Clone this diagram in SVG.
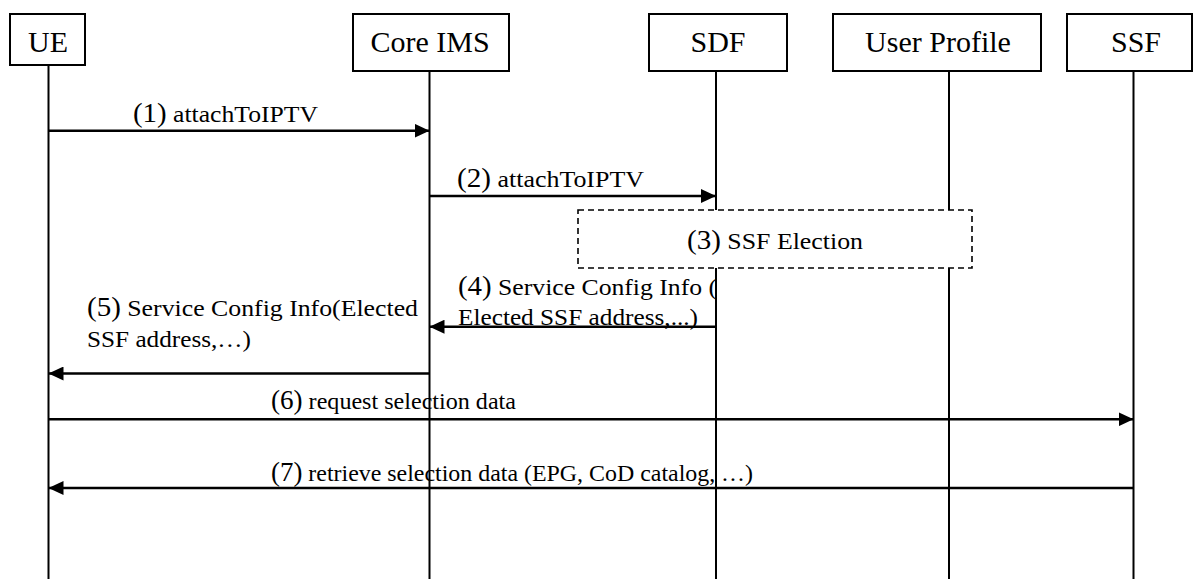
<svg xmlns="http://www.w3.org/2000/svg" width="1193" height="579" viewBox="0 0 1193 579">
<style>
.box{fill:#fff;stroke:#000;stroke-width:2}
.life{stroke:#000;stroke-width:2;fill:none}
.msg{stroke:#000;stroke-width:2.6;fill:none;marker-end:url(#ah)}
.name{font-family:"Liberation Serif","Times New Roman",serif;font-size:30px;fill:#000;text-anchor:middle}
.lbl{font-family:"Liberation Serif","Times New Roman",serif;font-size:24px;fill:#000}
.num{font-size:27px}
.dash{fill:#fff;stroke:#000;stroke-width:1.6;stroke-dasharray:6 4}
</style>
<defs>
<marker id="ah" viewBox="0 0 15 14" refX="15" refY="7" markerWidth="15" markerHeight="14" markerUnits="userSpaceOnUse" orient="auto">
<path d="M0,0 L15,7 L0,14 z" fill="#000"/>
</marker>
</defs>
<rect width="1193" height="579" fill="#fff"/>
<g id="lifelines">
<line class="life" x1="48.5" y1="65" x2="48.5" y2="579"/>
<line class="life" x1="429.5" y1="71" x2="429.5" y2="579"/>
<line class="life" x1="716" y1="71" x2="716" y2="579"/>
<line class="life" x1="949" y1="71" x2="949" y2="579"/>
<line class="life" x1="1133.5" y1="71" x2="1133.5" y2="579"/>
</g>
<g id="node-ue"><rect class="box" x="10" y="14" width="75" height="51"/><text class="name" x="48" y="52">UE</text></g>
<g id="node-coreims"><rect class="box" x="353" y="14" width="156" height="57"/><text class="name" x="430" y="52">Core IMS</text></g>
<g id="node-sdf"><rect class="box" x="649" y="14" width="138" height="57"/><text class="name" x="718" y="52">SDF</text></g>
<g id="node-userprofile"><rect class="box" x="833" y="14" width="208" height="57"/><text class="name" x="938" y="52">User Profile</text></g>
<g id="node-ssf"><rect class="box" x="1067" y="14" width="125" height="57"/><text class="name" x="1136" y="52">SSF</text></g>
<g id="node-election"><rect class="dash" x="578" y="210" width="394" height="58"/>
<text class="lbl" x="687" y="249" textLength="176" lengthAdjust="spacingAndGlyphs"><tspan class="num">(3)</tspan> SSF Election</text></g>
<g id="connectors">
<line class="msg" x1="48.5" y1="130.7" x2="429.5" y2="130.7"/>
<line class="msg" x1="429.5" y1="196" x2="716" y2="196"/>
<line class="msg" x1="716" y1="326.7" x2="429.5" y2="326.7"/>
<line class="msg" x1="429.5" y1="373.5" x2="48.5" y2="373.5"/>
<line class="msg" x1="48.5" y1="419.3" x2="1133.5" y2="419.3"/>
<line class="msg" x1="1133.5" y1="488" x2="48.5" y2="488"/>
</g>
<g id="labels">
<text class="lbl" x="133" y="122" textLength="185" lengthAdjust="spacingAndGlyphs"><tspan class="num">(1)</tspan> attachToIPTV</text>
<text class="lbl" x="457" y="187" textLength="187" lengthAdjust="spacingAndGlyphs"><tspan class="num">(2)</tspan> attachToIPTV</text>
<text class="lbl" x="458" y="294.5" textLength="259" lengthAdjust="spacingAndGlyphs"><tspan class="num">(4)</tspan> Service Config Info (</text>
<text class="lbl" x="458" y="325" textLength="240" lengthAdjust="spacingAndGlyphs">Elected SSF address,...)</text>
<text class="lbl" x="87" y="316" textLength="331" lengthAdjust="spacingAndGlyphs"><tspan class="num">(5)</tspan> Service Config Info(Elected</text>
<text class="lbl" x="87" y="346.7" textLength="164" lengthAdjust="spacingAndGlyphs">SSF address,…)</text>
<text class="lbl" x="271" y="409" textLength="245" lengthAdjust="spacingAndGlyphs"><tspan class="num">(6)</tspan> request selection data</text>
<text class="lbl" x="271" y="480.7" textLength="482" lengthAdjust="spacingAndGlyphs"><tspan class="num">(7)</tspan> retrieve selection data (EPG, CoD catalog, …)</text>
</g>
</svg>
